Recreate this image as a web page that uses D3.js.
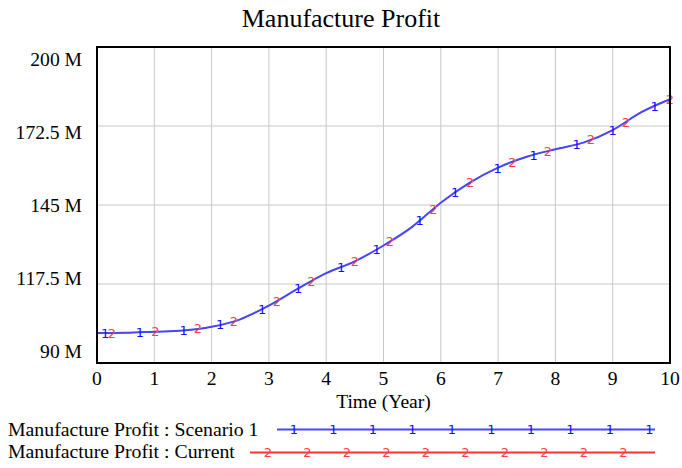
<!DOCTYPE html>
<html>
<head>
<meta charset="utf-8">
<script src="https://cdn.jsdelivr.net/npm/d3@7"></script>
<style>
  body { margin: 0; background: #fff; }
  svg { display: block; }
</style>
</head>
<body>
<script>
// time axis (years) and the two runs, values in millions
var years = [0, 0.5, 1, 1.5, 2, 2.5, 3, 3.5, 4, 4.5, 5, 5.5, 6, 6.5, 7, 7.5, 8, 8.5, 9, 9.5, 10];
var scenario1 = [100.4, 100.5, 100.9, 101.3, 102.6, 105.2, 110.0, 115.8, 121.3, 125.4, 130.9,
                 137.4, 145.8, 152.7, 158.0, 161.8, 164.4, 166.8, 171.1, 177.3, 181.8];
var current   = [100.4, 100.5, 100.9, 101.3, 102.6, 105.2, 110.0, 115.8, 121.3, 125.4, 130.9,
                 137.4, 145.8, 152.7, 158.0, 161.8, 164.4, 166.8, 171.1, 177.3, 181.8];
// where the run markers sit along the time axis
var markers1 = [0.14, 0.75, 1.51, 2.15, 2.88, 3.51, 4.26, 4.88, 5.63, 6.25, 6.99, 7.62, 8.37, 9.0, 9.73];
var markers2 = [0.26, 1.02, 1.76, 2.39, 3.14, 3.74, 4.5, 5.11, 5.87, 6.51, 7.25, 7.87, 8.62, 9.23, 10.0];
var yTicks = [90, 117.5, 145, 172.5, 200];
var yTickLabels = ["90 M", "117.5 M", "145 M", "172.5 M", "200 M"];
var xTicks = [0, 1, 2, 3, 4, 5, 6, 7, 8, 9, 10];
var seriesNames = ["Manufacture Profit : Scenario 1", "Manufacture Profit : Current"];

var W = 682, H = 468;
var pLeft = 97, pRight = 670, pTop = 47, pBottom = 363;
var serif = "Liberation Serif, Times New Roman, serif";
var blueLine = "#4646ff", blueMark = "#1010ff";
var redLine = "#ff3333", redMark = "#ff4040";

var svg = d3.select("body").append("svg")
    .attr("width", W)
    .attr("height", H);

var x = d3.scaleLinear().domain([0, 10]).range([pLeft, pRight]);
var y = d3.scaleLinear().domain([90, 200]).range([pBottom, pTop]);
// labels are spread a bit inside the frame, like the original tool does
var yLab = d3.scaleLinear().domain([90, 200]).range([358, 66]);

// title
svg.append("text")
    .attr("x", W / 2)
    .attr("y", 27)
    .attr("text-anchor", "middle")
    .style("font-family", serif)
    .style("font-size", "26px")
    .attr("fill", "#000")
    .text("Manufacture Profit");

// grid
svg.append("g").selectAll("line")
    .data(xTicks.slice(1, -1))
    .enter().append("line")
    .attr("x1", function(d) { return x(d); })
    .attr("x2", function(d) { return x(d); })
    .attr("y1", pTop)
    .attr("y2", pBottom)
    .attr("stroke", "#c8c8c8")
    .attr("stroke-width", 1);

svg.append("g").selectAll("line")
    .data(yTicks.slice(1, -1))
    .enter().append("line")
    .attr("x1", pLeft)
    .attr("x2", pRight)
    .attr("y1", function(d) { return y(d); })
    .attr("y2", function(d) { return y(d); })
    .attr("stroke", "#c8c8c8")
    .attr("stroke-width", 1);

// y labels
svg.append("g").selectAll("text")
    .data(yTicks)
    .enter().append("text")
    .attr("x", 82)
    .attr("y", function(d) { return yLab(d); })
    .attr("text-anchor", "end")
    .style("font-family", serif)
    .style("font-size", "19.6px")
    .attr("fill", "#000")
    .text(function(d, i) { return yTickLabels[i]; });

// x labels
svg.append("g").selectAll("text")
    .data(xTicks)
    .enter().append("text")
    .attr("x", function(d) { return x(d); })
    .attr("y", 385)
    .attr("text-anchor", "middle")
    .style("font-family", serif)
    .style("font-size", "19.6px")
    .attr("fill", "#000")
    .text(function(d) { return d; });

svg.append("text")
    .attr("x", (pLeft + pRight) / 2)
    .attr("y", 408)
    .attr("text-anchor", "middle")
    .style("font-family", serif)
    .style("font-size", "19.6px")
    .attr("fill", "#000")
    .text("Time (Year)");

// lines
var line = d3.line()
    .x(function(d) { return x(d[0]); })
    .y(function(d) { return y(d[1]); })
    .curve(d3.curveMonotoneX);

var pts1 = years.map(function(t, i) { return [t, scenario1[i]]; });
var pts2 = years.map(function(t, i) { return [t, current[i]]; });

svg.append("path")
    .attr("d", line(pts2))
    .attr("fill", "none")
    .attr("stroke", redLine)
    .attr("stroke-width", 1);

svg.append("path")
    .attr("d", line(pts1))
    .attr("fill", "none")
    .attr("stroke", blueLine)
    .attr("stroke-width", 2);

// value of a run at time t (markers sit on the run)
var bis = d3.bisector(function(d) { return d; }).left;
function valueAt(vals, t) {
    var i = Math.max(1, Math.min(years.length - 1, bis(years, t)));
    var t0 = years[i - 1], t1 = years[i];
    return vals[i - 1] + (vals[i] - vals[i - 1]) * (t - t0) / (t1 - t0);
}

function drawMarks(times, vals, label, color) {
    svg.append("g").selectAll("text")
        .data(times)
        .enter().append("text")
        .attr("x", function(d) { return x(d); })
        .attr("y", function(d) { return y(valueAt(vals, d)); })
        .attr("dy", "0.36em")
        .attr("text-anchor", "middle")
        .style("font-family", "DejaVu Sans, sans-serif")
        .style("font-size", "13px")
        .attr("fill", color)
        .text(label);
}
drawMarks(markers2, current, "2", redMark);
drawMarks(markers1, scenario1, "1", blueMark);

// frame
svg.append("rect")
    .attr("x", pLeft)
    .attr("y", pTop)
    .attr("width", pRight - pLeft)
    .attr("height", pBottom - pTop)
    .attr("fill", "none")
    .attr("stroke", "#000")
    .attr("stroke-width", 2);

// legend
var legend = [
    { name: seriesNames[0], y: 436, ly: 429.5, x1: 277, m0: 294, label: "1", line: blueLine, mark: blueMark },
    { name: seriesNames[1], y: 458, ly: 452.5, x1: 250, m0: 268, label: "2", line: redLine, mark: redMark }
];

legend.forEach(function(l) {
    svg.append("text")
        .attr("x", 8)
        .attr("y", l.y)
        .style("font-family", serif)
        .style("font-size", "19.8px")
        .attr("fill", "#000")
        .text(l.name);
    svg.append("line")
        .attr("x1", l.x1)
        .attr("x2", 655)
        .attr("y1", l.ly)
        .attr("y2", l.ly)
        .attr("stroke", l.line)
        .attr("stroke-width", 1.8);
    svg.append("g").selectAll("text")
        .data(d3.range(10))
        .enter().append("text")
        .attr("x", function(i) { return l.m0 + i * 39.5; })
        .attr("y", l.ly)
        .attr("dy", "0.36em")
        .attr("text-anchor", "middle")
        .style("font-family", "DejaVu Sans, sans-serif")
        .style("font-size", "13px")
        .attr("fill", l.mark)
        .text(l.label);
});
</script>
</body>
</html>
